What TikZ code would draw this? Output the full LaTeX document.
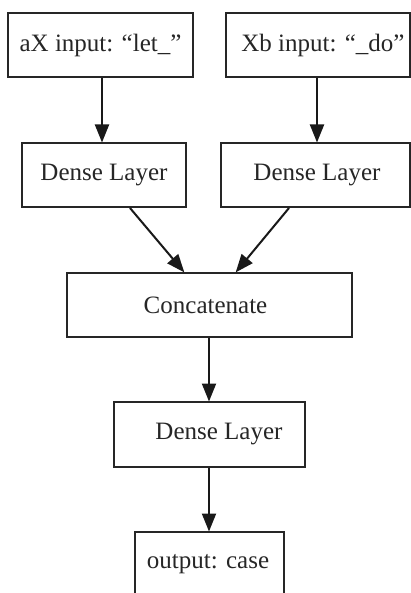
\documentclass[tikz,border=0pt]{standalone}
\usepackage{fontspec}
\setmainfont{Liberation Serif}
\usetikzlibrary{arrows.meta}
\begin{document}
\begin{tikzpicture}[x=1pt,y=-1pt,
  box/.style={draw=black!85, line width=2pt, rectangle, inner sep=0pt,
    font=\fontsize{25}{30}\selectfont, text=black!85},
  arr/.style={draw=black!90, line width=2pt,
    -{Triangle[length=18pt,width=14pt]}, shorten >=-0.5pt}]
\useasboundingbox (0,0) rectangle (411,593);
\clip (0,0) rectangle (411,593);
\node[box, minimum width=185pt, minimum height=64pt] (in1) at (100.5,45) {aX input: “let\_”};
\node[box, minimum width=184pt, minimum height=64pt,
  label={[font=\fontsize{25}{30}\selectfont, text=black!85, xshift=5pt]center:Xb input: “\_do”}] (in2) at (318,45) {};
\node[box, minimum width=164pt, minimum height=64pt] (d1) at (104,175) {Dense Layer};
\node[box, minimum width=189pt, minimum height=64pt,
  label={[font=\fontsize{25}{30}\selectfont, text=black!85, xshift=1.5pt]center:Dense Layer}] (d2) at (315.5,175) {};
\node[box, minimum width=285pt, minimum height=64pt,
  label={[font=\fontsize{25}{30}\selectfont, text=black!85, xshift=-4pt]center:Concatenate}] (cat) at (209.5,305) {};
\node[box, minimum width=191pt, minimum height=65pt,
  label={[font=\fontsize{25}{30}\selectfont, text=black!85, xshift=9.5pt]center:Dense Layer}] (d3) at (209.5,434.5) {};
\node[box, minimum width=149pt, minimum height=64pt,
  label={[font=\fontsize{25}{30}\selectfont, text=black!85, xshift=-1.5pt]center:output: case}] (out) at (209.5,564) {};
\draw[arr] ([xshift=1.5pt]in1.south) -- ([xshift=-2pt]d1.north);
\draw[arr] ([xshift=-1pt]in2.south) -- ([xshift=1.5pt]d2.north);
\draw[arr] ([xshift=26pt]d1.south) -- ([xshift=-25.5pt]cat.north);
\draw[arr] ([xshift=-26.5pt]d2.south) -- ([xshift=26.5pt]cat.north);
\draw[arr] ([xshift=-0.5pt]cat.south) -- ([xshift=-0.5pt]d3.north);
\draw[arr] ([xshift=-0.5pt]d3.south) -- ([xshift=-0.5pt]out.north);
\end{tikzpicture}
\end{document}
